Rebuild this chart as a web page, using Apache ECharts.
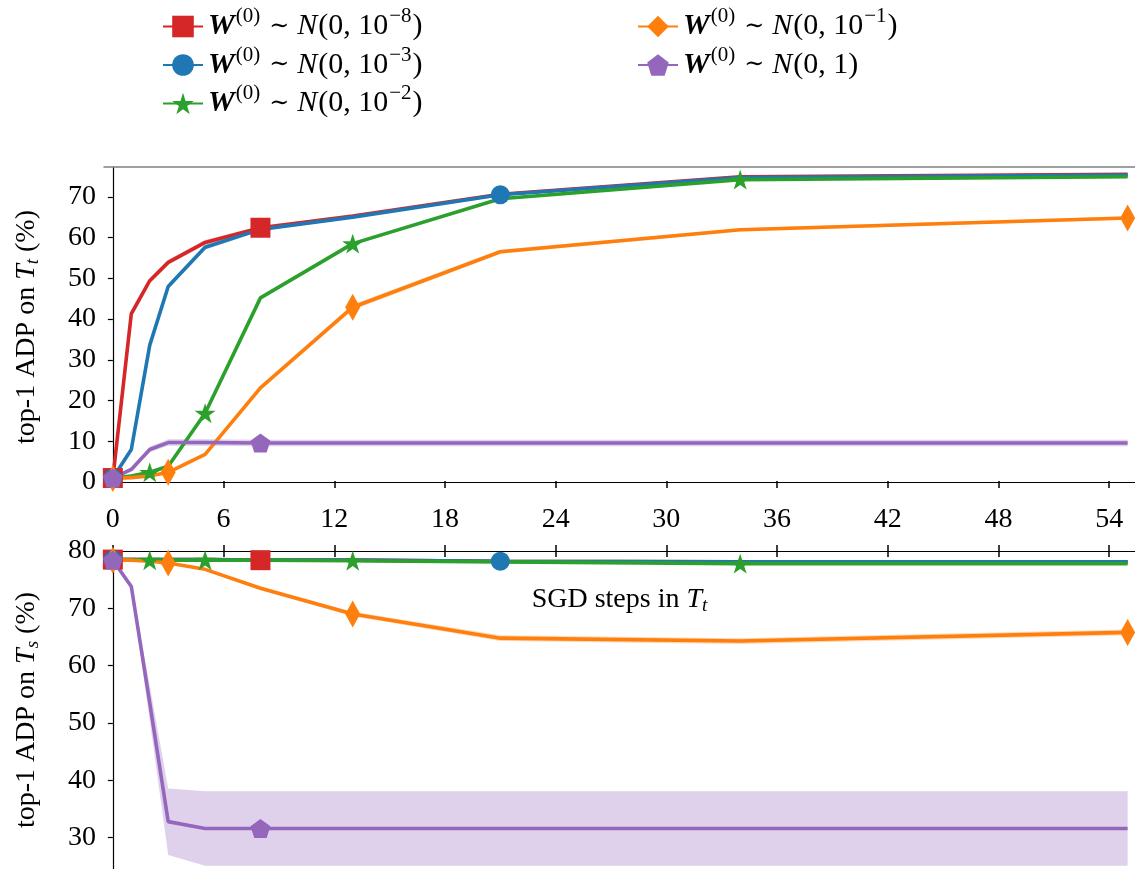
<!DOCTYPE html>
<html><head><meta charset="utf-8">
<script src="https://cdn.jsdelivr.net/npm/echarts@6/dist/echarts.min.js"></script>
<style>html,body{margin:0;padding:0;background:#fff}#c{width:1135px;height:869px}</style>
</head><body><div id="c"></div>
<script>
// ---- data ----
const steps = [0, 1, 2, 3, 5, 8, 13, 21, 34, 55];
const xTicks = [0, 6, 12, 18, 24, 30, 36, 42, 48, 54];
const yTicksTop = [0, 10, 20, 30, 40, 50, 60, 70];
const yTicksBottom = [30, 40, 50, 60, 70, 80];
const seriesNames = ['W(0) ~ N(0, 1e-8)', 'W(0) ~ N(0, 1e-3)', 'W(0) ~ N(0, 1e-2)', 'W(0) ~ N(0, 1e-1)', 'W(0) ~ N(0, 1)'];
const legendExponents = ['−8', '−3', '−2', '−1', ''];

// top panel: top-1 ADP on T_t (mean, spread)
const targetRed    = [1.0, 41.3, 49.4, 53.9, 58.8, 62.4, 65.3, 70.6, 74.9, 75.5];
const targetBlue   = [1.0, 8.0, 33.6, 48.0, 57.6, 62.0, 65.0, 70.5, 74.7, 75.3];
const targetGreen  = [1.0, 1.5, 2.4, 3.9, 16.9, 45.2, 58.5, 69.5, 74.2, 74.9];
const targetOrange = [0.9, 1.1, 1.5, 2.4, 6.8, 23.1, 42.9, 56.5, 61.9, 64.8];
const targetPurple = [1.0, 3.1, 8.0, 9.7, 9.7, 9.6, 9.6, 9.6, 9.6, 9.6];
const targetRedStd    = [0.3, 0.5, 0.6, 0.6, 0.6, 0.4, 0.3, 0.3, 0.3, 0.3];
const targetBlueStd   = [0.3, 0.5, 0.6, 0.6, 0.6, 0.4, 0.3, 0.3, 0.3, 0.3];
const targetGreenStd  = [0.3, 0.3, 0.3, 0.4, 0.5, 0.4, 0.4, 0.3, 0.3, 0.3];
const targetOrangeStd = [0.2, 0.2, 0.3, 0.3, 0.4, 0.5, 0.7, 0.5, 0.4, 0.4];
const targetPurpleStd = [0.3, 0.5, 0.7, 0.8, 0.8, 0.8, 0.8, 0.8, 0.8, 0.8];

// bottom panel: top-1 ADP on T_s (mean, spread)
const sourceRed    = [78.5, 78.5, 78.5, 78.5, 78.5, 78.4, 78.4, 78.2, 78.1, 78.1];
const sourceBlue   = [78.5, 78.5, 78.5, 78.5, 78.5, 78.4, 78.4, 78.2, 78.1, 78.1];
const sourceGreen  = [78.5, 78.5, 78.4, 78.4, 78.4, 78.4, 78.3, 78.1, 77.8, 77.8];
const sourceOrange = [78.4, 78.4, 78.2, 77.9, 76.8, 73.5, 69.0, 64.8, 64.3, 65.8];
const sourcePurple = [78.4, 73.8, 53.5, 32.8, 31.6, 31.6, 31.6, 31.6, 31.6, 31.6];
const sourceRedStd    = [0.1, 0.1, 0.1, 0.1, 0.1, 0.1, 0.1, 0.1, 0.1, 0.1];
const sourceBlueStd   = [0.1, 0.1, 0.1, 0.1, 0.1, 0.1, 0.1, 0.1, 0.1, 0.1];
const sourceGreenStd  = [0.1, 0.1, 0.1, 0.1, 0.1, 0.1, 0.1, 0.1, 0.1, 0.1];
const sourceOrangeStd = [0.1, 0.1, 0.1, 0.2, 0.2, 0.3, 0.4, 0.5, 0.5, 0.5];
const sourcePurpleStd = [0.3, 0.4, 3.0, 5.8, 6.5, 6.5, 6.5, 6.5, 6.5, 6.5];

// marker positions (x values)
const redMarks = [0, 8];
const blueMarks = [0, 21];
const greenMarks = [0, 2, 5, 13, 34];
const orangeMarks = [0, 3, 13, 55];
const purpleMarks = [0, 8];

// ---- styling ----
const FONT = '"Liberation Serif", "DejaVu Serif", serif';
const colors = ['#d62728', '#1f77b4', '#2ca02c', '#ff7f0e', '#9467bd'];
const STAR = 'path://M0,-1 L0.2245,-0.309 L0.951,-0.309 L0.363,0.118 L0.588,0.809 L0,0.382 L-0.588,0.809 L-0.363,0.118 L-0.951,-0.309 L-0.2245,-0.309 Z';
const PENT = 'path://M0,-1 L0.951,-0.309 L0.588,0.809 L-0.588,0.809 L-0.951,-0.309 Z';
const symbols = ['rect', 'circle', STAR, 'diamond', PENT];
const sizes = [20, 19, 21, [15, 27], 20];
const marks = [redMarks, blueMarks, greenMarks, orangeMarks, purpleMarks];
const targets = [targetRed, targetBlue, targetGreen, targetOrange, targetPurple];
const targetStds = [targetRedStd, targetBlueStd, targetGreenStd, targetOrangeStd, targetPurpleStd];
const sources = [sourceRed, sourceBlue, sourceGreen, sourceOrange, sourcePurple];
const sourceStds = [sourceRedStd, sourceBlueStd, sourceGreenStd, sourceOrangeStd, sourcePurpleStd];

const richBase = {
  t: { fontFamily: FONT, fontSize: 30, color: '#000' },
  w: { fontFamily: FONT, fontSize: 30, color: '#000', fontWeight: 'bold', fontStyle: 'italic' },
  n: { fontFamily: FONT, fontSize: 30, color: '#000', fontStyle: 'italic', padding: [0, 1, 0, 0] },
  tl: { fontFamily: '"DejaVu Serif", serif', fontSize: 24, color: '#000', padding: [0, 8, 0, 8] },
  sup: { fontFamily: FONT, fontSize: 21, color: '#000', padding: [0, 1, 20, 1] },
  c: { fontFamily: FONT, fontSize: 28, color: '#000', fontStyle: 'italic' },
  sub: { fontFamily: FONT, fontSize: 19, color: '#000', fontStyle: 'italic', padding: [12, 0, 0, 0] },
  a: { fontFamily: FONT, fontSize: 28, color: '#000' }
};

function legendText(name) {
  const i = seriesNames.indexOf(name);
  const e = legendExponents[i];
  if (e) return '{w|W}{sup|(0)}{tl|∼}{n|N}{t|(0, 10}{sup|' + e + '}{t|)}';
  return '{w|W}{sup|(0)}{tl|∼}{n|N}{t|(0, 1)}';
}

const series = [];
function addBand(ys, sd, color, xi, yi, alpha) {
  series.push({
    type: 'custom', xAxisIndex: xi, yAxisIndex: yi, silent: true, z: 1,
    data: steps.map((x, i) => [x, ys[i] - sd[i], ys[i] + sd[i]]),
    encode: { x: 0, y: [1, 2] },
    renderItem: function (params, api) {
      if (params.dataIndex !== 0) return null;
      const up = [], lo = [];
      for (let i = 0; i < steps.length; i++) {
        up.push(api.coord([steps[i], ys[i] + sd[i]]));
        lo.push(api.coord([steps[i], ys[i] - sd[i]]));
      }
      const cs = params.coordSys;
      return {
        type: 'polygon',
        shape: { points: up.concat(lo.reverse()) },
        style: { fill: color, opacity: alpha },
        clipPath: { type: 'rect', shape: { x: cs.x, y: cs.y, width: cs.width, height: cs.height } }
      };
    }
  });
}
function addLine(k, ys, xi, yi) {
  series.push({
    type: 'line', name: seriesNames[k], xAxisIndex: xi, yAxisIndex: yi,
    data: steps.map((x, i) => ({ value: [x, ys[i]], symbolSize: marks[k].includes(x) ? sizes[k] : 0 })),
    symbol: symbols[k], symbolSize: sizes[k], symbolKeepAspect: true, showAllSymbol: true,
    lineStyle: { width: 3.6, color: colors[k] }, itemStyle: { color: colors[k] },
    z: 3, animation: false, emphasis: { disabled: true }
  });
}
for (let k = 0; k < 5; k++) {
  addBand(targets[k], targetStds[k], colors[k], 0, 0, 0.3);
  addBand(sources[k], sourceStds[k], colors[k], 3, 1, 0.3);
}
for (let k = 0; k < 5; k++) {
  addLine(k, targets[k], 0, 0);
  addLine(k, sources[k], 3, 1);
}

const axisLine = { show: true, lineStyle: { color: '#000', width: 1.2 } };
const labelStyle = { fontFamily: FONT, fontSize: 28, color: '#000' };
const legendCommon = {
  orient: 'vertical', top: 1, itemWidth: 40, itemHeight: 27, itemGap: 3,
  formatter: legendText, textStyle: { rich: richBase }, selectedMode: false
};

const option = {
  animation: false,
  backgroundColor: '#fff',
  grid: [
    { left: 104, right: 0, top: 167, height: 320 },
    { left: 104, right: 0, top: 551, height: 318 }
  ],
  legend: [
    Object.assign({ data: seriesNames.slice(0, 3), left: 157 }, legendCommon),
    Object.assign({ data: seriesNames.slice(3), left: 632 }, legendCommon)
  ],
  xAxis: [
    { gridIndex: 0, type: 'value', min: -0.48, max: 55.4, position: 'bottom', axisLine,
      axisTick: { customValues: xTicks, length: 6, lineStyle: { color: '#000', width: 1.5 } },
      axisLabel: Object.assign({ customValues: xTicks, margin: 19 }, labelStyle),
      splitLine: { show: false },
      name: '{a|SGD steps in }{c|T}{sub|t}', nameLocation: 'middle', nameGap: 97,
      nameTextStyle: { rich: richBase } },
    { gridIndex: 0, type: 'value', min: -0.48, max: 55.4, position: 'bottom', offset: 0, axisLine: { show: false },
      axisTick: { inside: true, customValues: xTicks, length: 6, lineStyle: { color: '#000', width: 1.5 } },
      axisLabel: { show: false }, splitLine: { show: false } },
    { gridIndex: 0, type: 'value', min: -0.48, max: 55.4, position: 'top', offset: 0,
      axisLine: { show: true, lineStyle: { color: '#808080', width: 1.5 } },
      axisTick: { show: false }, axisLabel: { show: false }, splitLine: { show: false } },
    { gridIndex: 1, type: 'value', min: -0.48, max: 55.4, position: 'top', axisLine,
      axisTick: { customValues: xTicks, length: 6, lineStyle: { color: '#000', width: 1.5 } },
      axisLabel: { show: false }, splitLine: { show: false } },
    { gridIndex: 1, type: 'value', min: -0.48, max: 55.4, position: 'top', offset: 0, axisLine: { show: false },
      axisTick: { inside: true, customValues: xTicks, length: 6, lineStyle: { color: '#000', width: 1.5 } },
      axisLabel: { show: false }, splitLine: { show: false } }
  ],
  yAxis: [
    { gridIndex: 0, type: 'value', min: -1.2, max: 77.3, axisLine,
      axisTick: { customValues: yTicksTop, length: 5, lineStyle: { color: '#000', width: 1.2 } },
      axisLabel: Object.assign({ customValues: yTicksTop, margin: 8 }, labelStyle),
      splitLine: { show: false },
      name: '{a|top-1 ADP on }{c|T}{sub|t}{a| (%)}', nameLocation: 'middle', nameRotate: 90, nameGap: 62,
      nameTextStyle: { rich: richBase } },
    { gridIndex: 1, type: 'value', min: 24.54, max: 80, axisLine,
      axisTick: { customValues: yTicksBottom, length: 5, lineStyle: { color: '#000', width: 1.2 } },
      axisLabel: Object.assign({ customValues: yTicksBottom, margin: 8 }, labelStyle),
      splitLine: { show: false },
      name: '{a|top-1 ADP on }{c|T}{sub|s}{a| (%)}', nameLocation: 'middle', nameRotate: 90, nameGap: 62,
      nameTextStyle: { rich: richBase } }
  ],
  series
};
const chart = echarts.init(document.getElementById('c'), null, { renderer: 'canvas' });
chart.setOption(option);
</script></body></html>
